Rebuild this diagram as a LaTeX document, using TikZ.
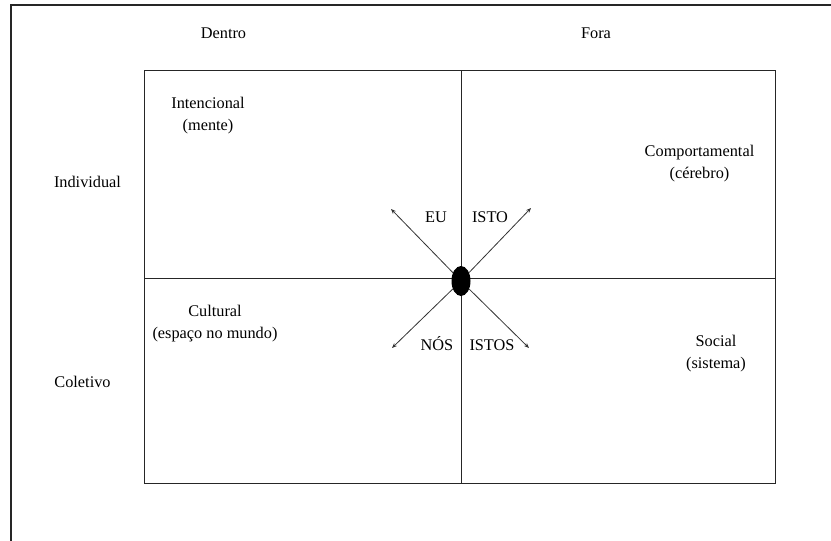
\documentclass[tikz,border=0pt]{standalone}
\usepackage{fontspec}
\setmainfont{Liberation Serif}
\usetikzlibrary{arrows.meta,shapes.geometric}
\begin{document}
\begin{tikzpicture}[x=1pt,y=-1pt,
  lbl/.style={font=\fontsize{16.3}{22}\selectfont, align=center, inner sep=0pt, anchor=base},
  frame/.style={draw=black!85, line width=1pt},
  ray/.style={draw=black!80, line width=0.8pt, -{Stealth[length=5pt,width=4pt]}}]
\useasboundingbox (0,0) rectangle (831,541);
% outer frame
\coordinate (fbl) at (11,541);
\coordinate (ftl) at (11,5);
\coordinate (ftr) at (831,5);
\draw[frame, line width=1.2pt] (fbl) -- (ftl) -- (ftr);
% quadrant box
\coordinate (tl) at (144,70);
\coordinate (br) at (775,483);
\coordinate (tm) at (461,70);
\coordinate (bm) at (461,483);
\coordinate (ml) at (144,278);
\coordinate (mr) at (775,278);
\draw[frame] (tl) rectangle (br);
\draw[frame] (tm) -- (bm);
\draw[frame] (ml) -- (mr);
% center
\node[ellipse, fill=black, minimum width=19pt, minimum height=30pt, inner sep=0pt] (c) at (461,281) {};
\coordinate (ul) at (391,209);
\coordinate (ur) at (531,208);
\coordinate (ll) at (392,348);
\coordinate (lr) at (529,348);
\draw[ray] (c) -- (ul);
\draw[ray] (c) -- (ur);
\draw[ray] (c) -- (ll);
\draw[ray] (c) -- (lr);
% labels
\node[lbl] (dentro) at (223.5,38) {Dentro};
\node[lbl] (fora) at (596,38) {Fora};
\node[lbl] (ind) at (87.5,187) {Individual};
\node[lbl] (col) at (82.5,387) {Coletivo};
\node[lbl] (int) at (208,130) {Intencional\\(mente)};
\node[lbl] (comp) at (699.5,178) {Comportamental\\(cérebro)};
\node[lbl] (cult) at (215,338) {Cultural\\(espaço no mundo)};
\node[lbl] (soc) at (716,368) {Social\\(sistema)};
\node[lbl] (eu) at (436,222) {EU};
\node[lbl] (isto) at (490,222) {ISTO};
\node[lbl] (nos) at (437,350) {NÓS};
\node[lbl] (istos) at (492,350) {ISTOS};
\end{tikzpicture}
\end{document}
